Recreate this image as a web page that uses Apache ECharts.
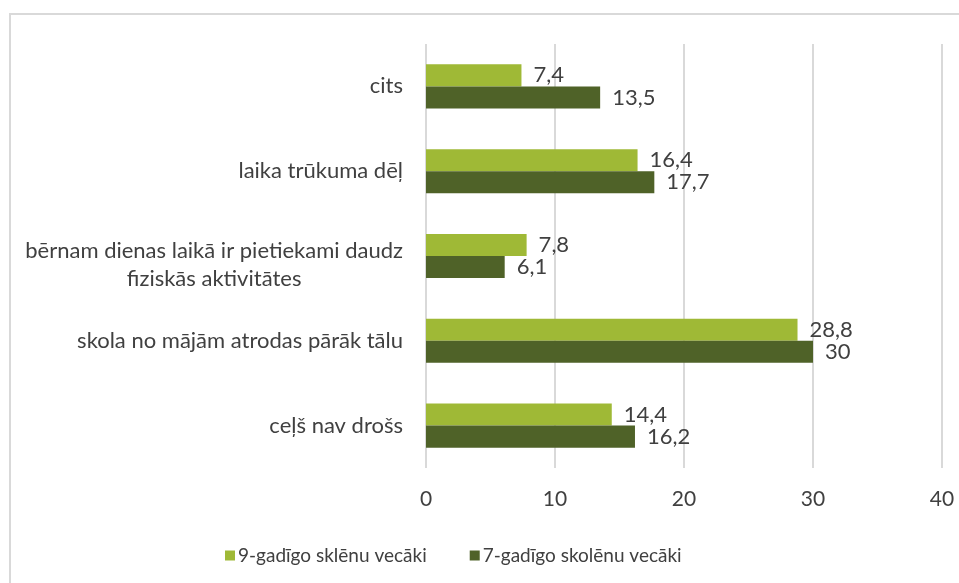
<!DOCTYPE html>
<html>
<head>
<meta charset="utf-8">
<script src="https://cdn.jsdelivr.net/npm/echarts@6/dist/echarts.min.js"></script>
<style>
  html, body { margin: 0; padding: 0; background: #fff; }
  #chart { width: 959px; height: 583px; }
</style>
</head>
<body>
<div id="chart"></div>
<script>
// categories, bottom to top
const categories = [
  "ceļš nav drošs",
  "skola no mājām atrodas pārāk tālu",
  "bērnam dienas laikā ir pietiekami daudz\nfiziskās aktivitātes",
  "laika trūkuma dēļ",
  "cits",
];
const seriesNames = ["9-gadīgo sklēnu vecāki", "7-gadīgo skolēnu vecāki"];
const values9 = [14.4, 28.8, 7.8, 16.4, 7.4];
const values7 = [16.2, 30, 6.1, 17.7, 13.5];
const xTicks = [0, 10, 20, 30, 40];

const font = "Lato, 'Open Sans', sans-serif";
const textColor = "#404040";

let chart = echarts.init(document.getElementById("chart"));

function valueLabel(p) {
  return String(p.value).replace(".", ",");
}

function catLabel(v) {
  // two-line label sits a bit lower, lines centred on each other
  if (v.indexOf("\n") >= 0) {
    return "{s| }\n{c|" + v + "}";
  }
  return "{c|" + v + "}";
}

let option = {
  animation: false,
  textStyle: { fontFamily: font },
  graphic: [
    {
      type: "rect",
      shape: { x: 10, y: 14, width: 1000, height: 1000 },
      style: { fill: "none", stroke: "#d9d9d9", lineWidth: 2 },
      silent: true,
    },
  ],
  grid: { left: 426, right: 17, top: 44, bottom: 115 },
  legend: {
    data: seriesNames,
    left: 220,
    top: 541,
    itemWidth: 10,
    itemHeight: 10,
    itemGap: 43,
    icon: "rect",
    textStyle: { fontSize: 19, color: textColor, fontFamily: font, padding: [0, 0, 0, -2] },
  },
  xAxis: {
    type: "value",
    min: xTicks[0],
    max: xTicks[xTicks.length - 1],
    interval: 10,
    axisLine: { show: false },
    axisTick: { show: false },
    splitLine: { lineStyle: { color: "#d9d9d9", width: 2 } },
    axisLabel: { fontSize: 21, color: textColor, margin: 21, fontFamily: font },
  },
  yAxis: {
    type: "category",
    data: categories,
    axisLine: { show: false },
    axisTick: { show: false },
    axisLabel: {
      fontSize: 22,
      color: textColor,
      margin: 23,
      fontFamily: font,
      formatter: catLabel,
      rich: {
        c: { align: "center", fontSize: 22, color: textColor, lineHeight: 28, fontFamily: font },
        s: { fontSize: 1, lineHeight: 18 },
      },
    },
  },
  series: [
    {
      name: seriesNames[0],
      type: "bar",
      data: values9,
      barGap: "0%",
      barCategoryGap: "48%",
      itemStyle: { color: "#9fb936" },
      label: {
        show: true,
        position: "right",
        distance: 12,
        fontSize: 22,
        color: textColor,
        fontFamily: font,
        formatter: valueLabel,
      },
    },
    {
      name: seriesNames[1],
      type: "bar",
      data: values7,
      barGap: "0%",
      barCategoryGap: "48%",
      itemStyle: { color: "#4f6228" },
      label: {
        show: true,
        position: "right",
        distance: 12,
        fontSize: 22,
        color: textColor,
        fontFamily: font,
        formatter: valueLabel,
      },
    },
  ],
};

chart.setOption(option);
</script>
</body>
</html>
